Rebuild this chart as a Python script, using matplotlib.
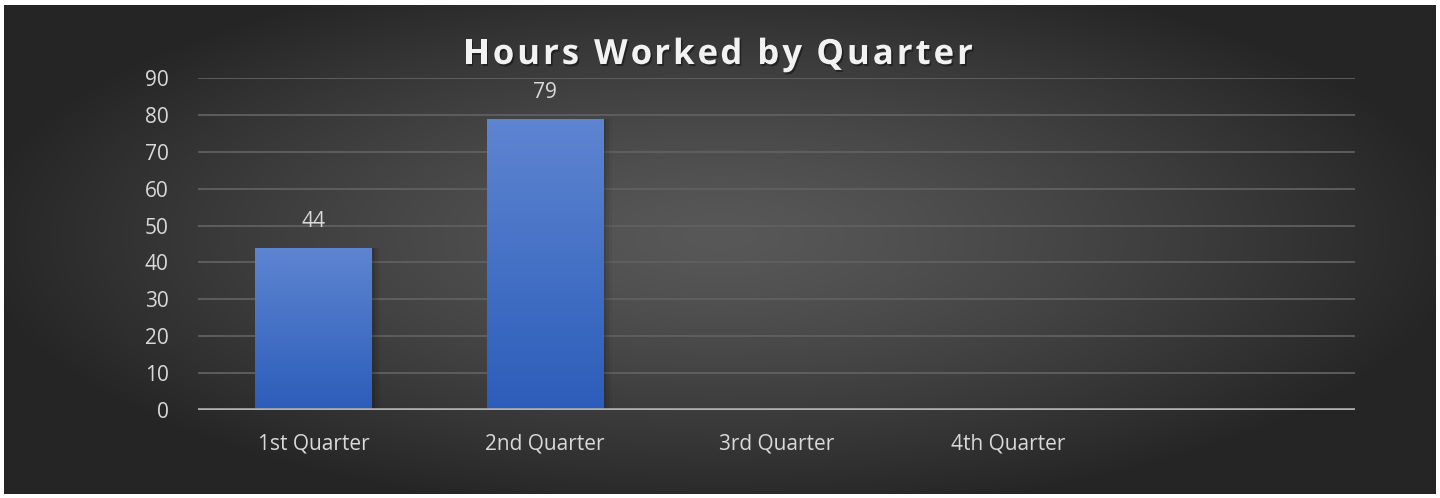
import numpy as np
import matplotlib.pyplot as plt
import matplotlib.patheffects as pe
from matplotlib.colors import LinearSegmentedColormap

categories = ["1st Quarter", "2nd Quarter", "3rd Quarter", "4th Quarter", ""]
hours = [44, 79, 0, 0, 0]
yticks = [0, 10, 20, 30, 40, 50, 60, 70, 80, 90]
title = "Hours Worked by Quarter"

W, H = 1440, 498
fig = plt.figure(figsize=(W / 100, H / 100), dpi=100)
fig.patch.set_facecolor("white")

# dark panel with radial gradient
bg = fig.add_axes([4 / W, 1 - 494 / H, 1432 / W, 489 / H])
bg.axis("off")
gx = np.linspace(-1, 1, 600)
gy = np.linspace(-1, 1, 220)
GX, GY = np.meshgrid(gx, gy)
r = np.sqrt((GX / 1.0) ** 2 + ((GY + 0.05) / 1.1) ** 2)
r = np.clip(r / 1.05, 0, 1)
center = np.array([0x58, 0x58, 0x58]) / 255
edge = np.array([0x25, 0x25, 0x25]) / 255
img = center + (edge - center) * (r[..., None] ** 1.3)
bg.imshow(img, aspect="auto", extent=[0, 1, 0, 1], interpolation="bicubic")
bg.set_xlim(0, 1)
bg.set_ylim(0, 1)

ax = fig.add_axes([198 / W, 1 - 410 / H, (1355 - 198) / W, (410 - 78) / H])
ax.patch.set_alpha(0)
x = np.arange(len(categories))

for y in yticks[1:]:
    ax.axhline(y, color="#606060", lw=1.3, zorder=1)

bar_cmap = LinearSegmentedColormap.from_list("b", ["#2c5dba", "#5e85d1"])
bars = ax.bar(x, hours, width=0.505, color="none", zorder=3)
for b, v in zip(bars, hours):
    if v <= 0:
        continue
    bx, bw = b.get_x(), b.get_width()
    # soft shadow
    for k, a in enumerate([0.10, 0.07, 0.04]):
        ax.add_patch(plt.Rectangle((bx + bw, 0), 0.012 * (k + 1), v,
                                   color="black", alpha=a, lw=0, zorder=2))
    grad = np.linspace(0, 1, 256)[:, None]
    im = ax.imshow(grad, cmap=bar_cmap, aspect="auto", origin="lower",
                   extent=[bx, bx + bw, 0, v], zorder=3)
    im.set_clip_path(b)
    ax.text(bx + bw / 2, v + 4.3, f"{v}", ha="center", va="bottom",
            color="#d9d9d9", fontsize=15, family="Open Sans")

ax.set_xlim(-0.5, len(categories) - 0.5)
ax.set_ylim(0, 90)
ax.axhline(0, color="#b0b0b0", lw=2.6, zorder=4)

for s in ax.spines.values():
    s.set_visible(False)
ax.set_yticks(yticks)
ax.set_xticks(x)
ax.set_xticklabels(categories)
ax.tick_params(axis="both", length=0, colors="#d9d9d9", labelsize=15)
ax.tick_params(axis="y", pad=21)
ax.tick_params(axis="x", pad=17)
for lab in ax.get_xticklabels() + ax.get_yticklabels():
    lab.set_family("Open Sans")

# title with letter spacing, drawn one character at a time
tkw = dict(fontsize=25, fontweight="bold", family="Open Sans")
renderer = fig.canvas.get_renderer()


def width_px(s):
    t = fig.text(0, 0, s + "H", **tkw)
    t2 = fig.text(0, 0, "H", **tkw)
    w = t.get_window_extent(renderer).width - t2.get_window_extent(renderer).width
    t.remove()
    t2.remove()
    return w


spacing = 3.0
total = width_px(title) + spacing * (len(title) - 1)
x0 = 718 - total / 2
for i, ch in enumerate(title):
    if ch == " ":
        continue
    px = x0 + width_px(title[:i]) + spacing * i
    fig.text(px / W, 1 - 55 / H, ch, ha="left", va="center", color="#f2f2f2",
             path_effects=[pe.SimplePatchShadow(offset=(1.2, -1.5),
                                                shadow_rgbFace="black", alpha=0.4),
                           pe.Normal()], **tkw)

fig.savefig("out.png", dpi=100, facecolor=fig.get_facecolor())
